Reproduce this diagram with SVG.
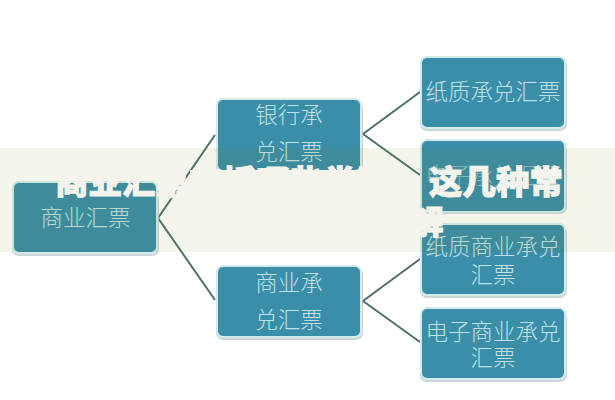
<svg xmlns="http://www.w3.org/2000/svg" width="615" height="400" viewBox="0 0 615 400">
<style>
.box{fill:#3b8ea9;stroke:#d3ebee;stroke-width:2}
.sh{fill:#b9c9c9;opacity:.75}
.t{font-family:"Noto Sans CJK SC","Liberation Sans",sans-serif;font-size:22.5px;font-weight:300;fill:#bfe0e5;text-anchor:middle}
.o{font-family:"Noto Sans CJK SC","Liberation Sans",sans-serif;font-size:33.5px;font-weight:900;fill:#f4f3ec;stroke:#f4f3ec;stroke-width:.9}
.c{fill:none;stroke:#50706f;stroke-width:2}
</style>
<rect width="615" height="400" fill="#ffffff"/>
<g id="connectors">
<path class="c" d="M215 135L158 218L215 300"/>
<path class="c" d="M420 92L363 134L420 175"/>
<path class="c" d="M420 259L363 301L420 342"/>
</g>
<g id="node-root">
<rect class="sh" x="12" y="184" width="147" height="72" rx="7"/>
<rect class="box" x="13" y="182" width="144" height="71" rx="6"/>
<text class="t" x="85.500" y="226">商业汇票</text>
</g>
<g id="node-bank">
<rect class="sh" x="216" y="101" width="147" height="72" rx="7"/>
<rect class="box" x="217" y="99" width="144" height="72" rx="6"/>
<text class="t" x="289" y="123">银行承</text>
<text class="t" x="289" y="160">兑汇票</text>
</g>
<g id="node-commercial">
<rect class="sh" x="216" y="268" width="147" height="72" rx="7"/>
<rect class="box" x="217" y="266" width="144" height="71" rx="6"/>
<text class="t" x="289" y="291">商业承</text>
<text class="t" x="289" y="328">兑汇票</text>
</g>
<g id="node-paper-bank">
<rect class="sh" x="420" y="59" width="147" height="72" rx="7"/>
<rect class="box" x="421" y="57" width="144" height="71" rx="6"/>
<text class="t" x="493" y="100">纸质承兑汇票</text>
</g>
<g id="node-electronic-bank">
<rect class="sh" x="420" y="142" width="147" height="72" rx="7"/>
<rect class="box" x="421" y="140" width="144" height="72" rx="6"/>
<text class="t" x="493" y="184" opacity=".55">电子承兑汇票</text>
</g>
<g id="node-paper-commercial">
<rect class="sh" x="420" y="226" width="147" height="72" rx="7"/>
<rect class="box" x="421" y="224" width="144" height="71" rx="6"/>
<text class="t" x="493" y="255">纸质商业承兑</text>
<text class="t" x="493" y="283">汇票</text>
</g>
<g id="node-electronic-commercial">
<rect class="sh" x="420" y="310" width="147" height="72" rx="7"/>
<rect class="box" x="421" y="308" width="144" height="71" rx="6"/>
<text class="t" x="493" y="340">电子商业承兑</text>
<text class="t" x="493" y="366">汇票</text>
</g>
<rect x="0" y="148" width="615" height="104" fill="#6a7a00" opacity=".08"/>
<polygon points="190,170 362,170 362,177 418,177 418,252 190,252" fill="#f4f3ec"/>
<text class="o" x="55" y="194">商业汇票包括哪些类型？</text>
<text class="o" x="429" y="194">这几种常</text>
<text class="o" x="410" y="234">解</text>
</svg>
